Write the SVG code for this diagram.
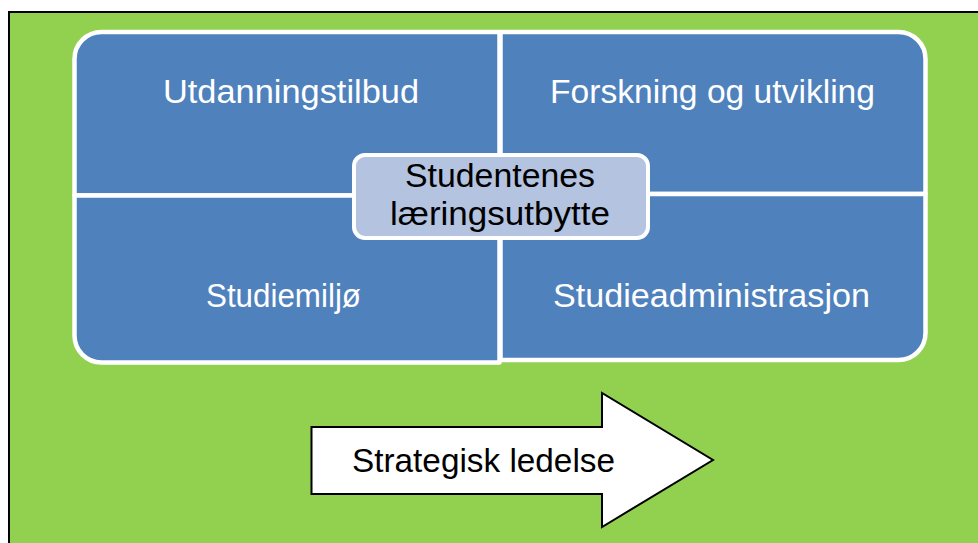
<svg xmlns="http://www.w3.org/2000/svg" width="978" height="543" viewBox="0 0 978 543">
  <style>
    .quad { fill: #4F81BD; stroke: #FFFFFF; stroke-width: 4.5; stroke-linejoin: round; }
    .qtxt { font-family: "Liberation Sans", Arial, sans-serif; font-size: 34px; fill: #FFFFFF; text-anchor: middle; }
    .ctxt { font-family: "Liberation Sans", Arial, sans-serif; font-size: 34px; fill: #000000; text-anchor: middle; }
  </style>
  <rect width="978" height="543" fill="#FFFFFF"/>
  <rect id="background" x="9" y="12" width="1000" height="600" fill="#92D050" stroke="#000000" stroke-width="2"/>

  <g id="utdanningstilbud">
    <path class="quad" d="M74.5,195.5 V59 A27,27 0 0 1 101.5,32 H499.5 V195.5 Z"/>
    <text class="qtxt" x="291" y="103" textLength="256" lengthAdjust="spacingAndGlyphs">Utdanningstilbud</text>
  </g>
  <g id="forskning">
    <path class="quad" d="M500.5,32 H898.5 A27,27 0 0 1 925.5,59 V194 H500.5 Z"/>
    <text class="qtxt" x="712.5" y="103" textLength="325" lengthAdjust="spacingAndGlyphs">Forskning og utvikling</text>
  </g>
  <g id="studiemiljo">
    <path class="quad" d="M74.5,195.5 H499.5 V362.5 H101.5 A27,27 0 0 1 74.5,335.5 Z"/>
    <text class="qtxt" x="283.5" y="307" textLength="155" lengthAdjust="spacingAndGlyphs">Studiemiljø</text>
  </g>
  <g id="studieadministrasjon">
    <path class="quad" d="M500.5,194 H925.5 V333 A27,27 0 0 1 898.5,360 H500.5 Z"/>
    <text class="qtxt" x="711.5" y="307" textLength="317" lengthAdjust="spacingAndGlyphs">Studieadministrasjon</text>
  </g>

  <g id="studentenes-laeringsutbytte">
    <rect x="354" y="155" width="294" height="83" rx="11" ry="11" fill="#B3C3E0" stroke="#FFFFFF" stroke-width="4"/>
    <text class="ctxt" x="500" y="187" textLength="190" lengthAdjust="spacingAndGlyphs">Studentenes</text>
    <text class="ctxt" x="500" y="225" textLength="220" lengthAdjust="spacingAndGlyphs">læringsutbytte</text>
  </g>

  <g id="strategisk-ledelse">
    <path d="M311.5,427 H602 V393 L713,460 L602,527 V494 H311.5 Z" fill="#FFFFFF" stroke="#000000" stroke-width="2" stroke-linejoin="miter"/>
    <text class="ctxt" x="483.5" y="472" textLength="263" lengthAdjust="spacingAndGlyphs">Strategisk ledelse</text>
  </g>

  <g id="connectors"></g>
</svg>
